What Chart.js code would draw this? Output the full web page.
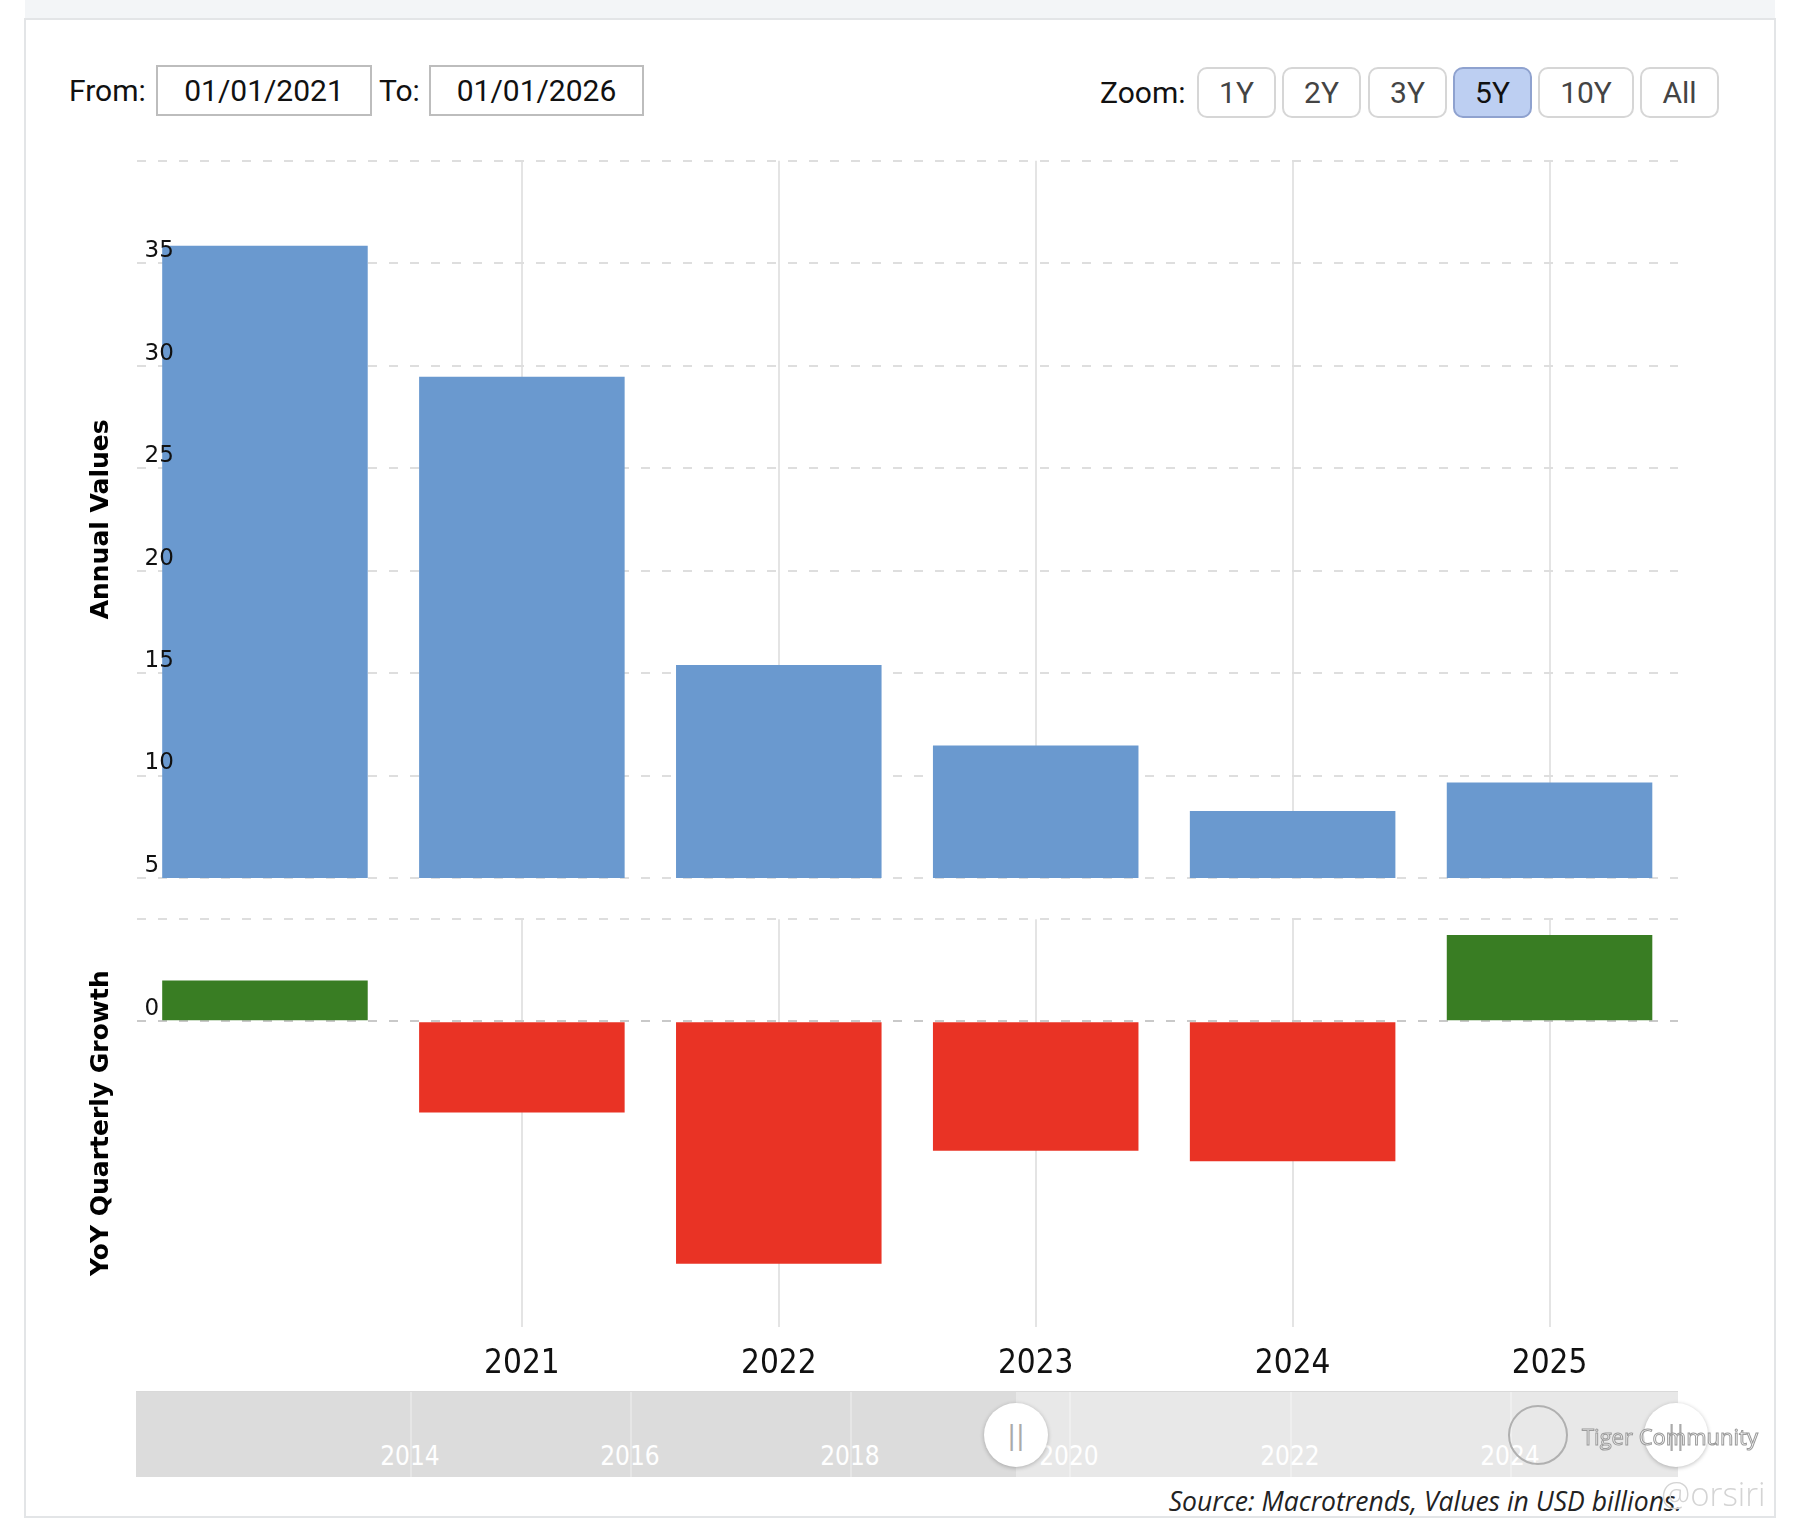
<!DOCTYPE html>
<html><head><meta charset="utf-8">
<script src="https://cdn.jsdelivr.net/npm/chart.js@4.4.1/dist/chart.umd.min.js"></script>
<style>
html,body{margin:0;padding:0;background:#fff;}
body{width:1800px;height:1537px;position:relative;overflow:hidden;font-family:Roboto,"Liberation Sans",sans-serif;}
.abs{position:absolute;}
#topstrip{left:25px;top:0;width:1750px;height:18px;background:#f3f5f7;}
#frame{left:24px;top:18px;width:1752px;height:1500px;border:2px solid #e3e5e7;box-sizing:border-box;}
.lbl{top:65px;height:51px;font-size:30px;color:#111;display:flex;align-items:center;}
.box{border:2px solid #bdbdbd;box-sizing:border-box;height:51px;top:65px;font-size:30px;display:flex;align-items:center;justify-content:center;color:#111;background:#fff;}
.btn{top:67px;height:51px;border:2px solid #d6d6d6;border-radius:10px;box-sizing:border-box;background:#fff;font-size:30px;color:#444;display:flex;align-items:center;justify-content:center;}
.btn.sel{background:#bdcff2;border-color:#8fa2cf;color:#111;}
canvas{position:absolute;left:0;}
#nav{left:136px;top:1391px;width:1542px;height:86px;background:#e8e8e8;border-top:1px solid #d9d9d9;box-sizing:border-box;overflow:hidden;}
#navmask{left:0;top:0;width:880px;height:86px;background:#dcdcdc;}
.ngl{top:0;width:2px;height:86px;background:rgba(255,255,255,0.3);}
.nlab{top:1440px;width:120px;margin-left:-60px;text-align:center;font-family:"DejaVu Sans Condensed","DejaVu Sans",sans-serif;font-stretch:condensed;font-size:26px;color:#fff;line-height:32px;}
.handle{width:64px;height:64px;border-radius:50%;background:#fff;box-shadow:0 1px 4px rgba(0,0,0,0.25);display:flex;align-items:center;justify-content:center;color:#aaa;font-size:26px;font-family:"DejaVu Sans",sans-serif;}
#source{right:118px;top:1484px;line-height:34px;font-family:"Open Sans",sans-serif;font-style:italic;font-size:26.5px;color:#222;white-space:nowrap;}
#wm1{left:1582px;top:1421px;font-family:"Open Sans",sans-serif;font-size:22px;color:rgba(255,255,255,0.6);-webkit-text-stroke:1px #9a9a9a;line-height:30px;white-space:nowrap;}
#wm2{left:1661px;top:1474px;font-family:"Open Sans",sans-serif;font-weight:300;font-size:33px;color:#d4d4d4;line-height:40px;}
#wmlogo{left:1508px;top:1405px;width:60px;height:60px;border-radius:50%;border:2px solid #b0b0b0;box-sizing:border-box;}
</style></head>
<body>
<div id="topstrip" class="abs"></div>
<div id="frame" class="abs"></div>

<div class="abs lbl" style="left:69px;">From:</div>
<div class="abs box" style="left:156px;width:216px;">01/01/2021</div>
<div class="abs lbl" style="left:379px;">To:</div>
<div class="abs box" style="left:429px;width:215px;">01/01/2026</div>

<div class="abs lbl" style="left:1100px;top:67px;">Zoom:</div>
<div class="abs btn" style="left:1197px;width:79px;">1Y</div>
<div class="abs btn" style="left:1282px;width:79px;">2Y</div>
<div class="abs btn" style="left:1368px;width:79px;">3Y</div>
<div class="abs btn sel" style="left:1453px;width:79px;">5Y</div>
<div class="abs btn" style="left:1538px;width:96px;">10Y</div>
<div class="abs btn" style="left:1640px;width:79px;">All</div>

<canvas id="c1" width="1800" height="740" style="top:150px;"></canvas>
<canvas id="c2" width="1800" height="500" style="top:900px;"></canvas>

<div id="nav" class="abs">
  <div id="navmask" class="abs"></div>
  <div class="abs ngl" style="left:274px;"></div>
  <div class="abs ngl" style="left:494px;"></div>
  <div class="abs ngl" style="left:714px;"></div>
  <div class="abs ngl" style="left:933px;"></div>
  <div class="abs ngl" style="left:1154px;"></div>
  <div class="abs ngl" style="left:1374px;"></div>
</div>
<div id="navlabels"></div>
<div class="abs handle" style="left:984px;top:1403px;">||</div>
<div class="abs handle" style="left:1644px;top:1403px;">||</div>
<div id="wmlogo" class="abs"></div>
<div id="wm1" class="abs">Tiger Community</div>
<div id="source" class="abs">Source: Macrotrends, Values in USD billions.</div>
<div id="wm2" class="abs">@orsiri</div>

<script>
// ---- data ----
const years = ['2020', '2021', '2022', '2023', '2024', '2025'];
const annualValues = [35.85, 29.46, 15.39, 11.47, 8.27, 9.66];
const yoyGrowth = [8.0, -17.9, -47.6, -25.4, -27.5, 16.9];
const navYears = ['2014', '2016', '2018', '2020', '2022', '2024'];
const navYearX = [410, 630, 850, 1069, 1290, 1510];

// navigator labels
const nl = document.getElementById('navlabels');
navYears.forEach((y, i) => {
  const d = document.createElement('div');
  d.className = 'abs nlab';
  d.style.left = navYearX[i] + 'px';
  d.textContent = y;
  nl.appendChild(d);
});

const BLUE = '#6a99cf', GREEN = '#397d23', RED = '#e93325';
const GRID = '#dedede';
const tickFont = {family: 'DejaVu Sans', size: 23};
const titleFont = {family: 'DejaVu Sans', size: 25, weight: 'bold'};
const vGrid = (c) => (c.index === 0 ? 'rgba(0,0,0,0)' : '#e4e4e4');
const noPad = (s) => { s.paddingTop = 0; s.paddingBottom = 0; s.paddingLeft = 0; s.paddingRight = 0; };

const common = {
  responsive: false, animation: false, maintainAspectRatio: false,
  plugins: {legend: {display: false}, tooltip: {enabled: false}}
};

new Chart(document.getElementById('c1'), {
  type: 'bar',
  data: {labels: years, datasets: [{data: annualValues, backgroundColor: BLUE, borderWidth: 0,
    categoryPercentage: 1, barPercentage: 0.8}]},
  options: Object.assign({}, common, {
    layout: {padding: {left: 86, right: 122, top: 10.7, bottom: 12}},
    scales: {
      x: {
        grid: {offset: false, color: vGrid, lineWidth: 2, drawTicks: false},
        border: {display: false},
        ticks: {display: false},
        afterFit: (s) => { s.height = 0; noPad(s); }
      },
      y: {
        min: 5, max: 40,
        ticks: {stepSize: 5, mirror: true, padding: 8, labelOffset: -12, z: 1, font: tickFont, color: '#111',
          callback: (v) => (v === 40 ? '' : String(v))},
        grid: {color: GRID, lineWidth: 2, drawTicks: false},
        border: {display: false, dash: [9, 12]},
        title: {display: true, text: 'Annual Values', font: titleFont, color: '#000', padding: 0},
        afterFit: (s) => { s.width = 50.5; noPad(s); }
      }
    }
  })
});

new Chart(document.getElementById('c2'), {
  type: 'bar',
  data: {labels: years, datasets: [{data: yoyGrowth,
    backgroundColor: yoyGrowth.map(v => (v >= 0 ? GREEN : RED)), borderWidth: 0,
    categoryPercentage: 1, barPercentage: 0.8}]},
  options: Object.assign({}, common, {
    layout: {padding: {left: 86, right: 122, top: 19.3, bottom: 13}},
    scales: {
      x: {
        grid: {offset: false, color: vGrid, lineWidth: 2, drawTicks: false},
        border: {display: false},
        ticks: {autoSkip: false, maxRotation: 0, padding: 18, color: '#111',
          font: {family: '"DejaVu Sans Condensed", "DejaVu Sans"', size: 33},
          callback: (v, i) => (i === 0 ? '' : years[i])},
        afterFit: (s) => { s.height = 60; noPad(s); }
      },
      y: {
        min: -60, max: 20,
        ticks: {stepSize: 20, mirror: true, padding: 8, labelOffset: -12, z: 1, font: tickFont, color: '#111',
          callback: (v) => (v === 0 ? '0' : '')},
        grid: {color: (c) => (c.tick.value === 0 ? '#c9c9c9' : (c.tick.value === 20 ? GRID : 'rgba(0,0,0,0)')),
          lineWidth: 2, drawTicks: false},
        border: {display: false, dash: [9, 12]},
        title: {display: true, text: 'YoY Quarterly Growth', font: titleFont, color: '#000', padding: 0},
        afterFit: (s) => { s.width = 50.5; noPad(s); }
      }
    }
  })
});
</script>
</body></html>
